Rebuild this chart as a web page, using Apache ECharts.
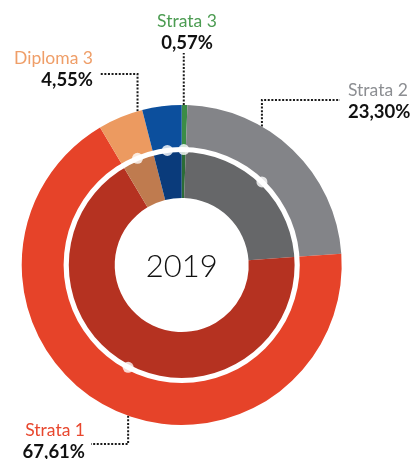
<!DOCTYPE html>
<html>
<head>
<meta charset="utf-8">
<script src="https://cdn.jsdelivr.net/npm/echarts@6/dist/echarts.min.js"></script>
<style>
  html, body { margin: 0; padding: 0; background: #fff; }
  #chart { width: 416px; height: 459px; }
</style>
</head>
<body>
<div id="chart"></div>
<script>
  var names = ['Strata 3', 'Strata 2', 'Strata 1', 'Diploma 3', 'Diploma 4'];
  var values = [0.57, 23.30, 67.61, 4.55, 3.97];
  var showLabel = [true, true, true, true, false];
  var year = '2019';

  var outerColors = ['#3b8c47', '#838488', '#e64329', '#ec9a60', '#0c4f9d'];
  var innerColors = ['#2b6c37', '#666769', '#b53221', '#bf7b4f', '#0a3b7b'];
  var nameColors = ['#4c9c52', '#8c8e92', '#e8472e', '#ef9e68', '#0c4f9d'];

  // label placement (anchor + where the dotted leader bends)
  var labelPos = [
    { x: 187, y: 32, align: 'center', elbowY: 53, endX: null },
    { x: 348, y: 101, align: 'left', elbowY: 100, endX: 340 },
    { x: 85, y: 441, align: 'right', elbowY: 444, endX: 91 },
    { x: 93, y: 69, align: 'right', elbowY: 74, endX: 100 },
    null
  ];

  var cx = 181.7, cy = 265;
  var rHole = 67, rRing = 115.5, rOuter = 160;

  var total = values.reduce(function (a, b) { return a + b; }, 0);
  var mids = [];
  var acc = 0;
  values.forEach(function (v) {
    mids.push((acc + v / 2) / total * 100);
    acc += v;
  });

  var rich = {
    v: { fontFamily: 'Lato', fontSize: 18.5, fontWeight: 'bold', color: '#111', lineHeight: 22 }
  };
  nameColors.forEach(function (c, i) {
    rich['n' + i] = { fontFamily: 'Lato', fontSize: 17.5, color: c, lineHeight: 22 };
  });

  var outerData = names.map(function (n, i) {
    return {
      name: n,
      value: values[i],
      itemStyle: { color: outerColors[i] },
      label: { show: showLabel[i] },
      labelLine: { show: showLabel[i] }
    };
  });
  var innerData = names.map(function (n, i) {
    return { name: n, value: values[i], itemStyle: { color: innerColors[i] } };
  });
  var dots = mids.map(function (m) { return [rRing, m]; });

  var chart = echarts.init(document.getElementById('chart'));
  var option = {
    animation: false,
    polar: { center: [cx, cy], radius: rOuter },
    angleAxis: { type: 'value', min: 0, max: 100, startAngle: 90, clockwise: true, show: false },
    radiusAxis: { type: 'value', min: 0, max: rOuter, show: false },
    graphic: [{
      type: 'text',
      x: cx,
      y: cy + 2,
      style: {
        text: year,
        align: 'center',
        verticalAlign: 'middle',
        fontFamily: 'Lato',
        fontWeight: 300,
        fontSize: 31,
        fill: '#111'
      }
    }],
    series: [
      {
        type: 'pie',
        center: [cx, cy],
        radius: [rRing, rOuter],
        startAngle: 90,
        avoidLabelOverlap: false,
        emphasis: { disabled: true },
        data: outerData,
        label: {
          position: 'outside',
          formatter: function (p) {
            return '{n' + p.dataIndex + '|' + p.name + '}\n{v|' +
              p.value.toFixed(2).replace('.', ',') + '%}';
          },
          rich: rich
        },
        labelLine: {
          smooth: false,
          lineStyle: { color: '#1a1a1a', width: 2, type: [2, 1.6] }
        },
        labelLayout: function (p) {
          var lp = labelPos[p.dataIndex];
          if (!lp) return {};
          var ang = mids[p.dataIndex] / 100 * 2 * Math.PI;
          var x0 = cx + rRing * Math.sin(ang);
          var dx = x0 - cx;
          var dyEdge = Math.sqrt(rOuter * rOuter - dx * dx);
          var y0 = Math.cos(ang) > 0 ? cy - dyEdge : cy + dyEdge;
          var endX = lp.endX == null ? x0 : lp.endX;
          return {
            x: lp.x,
            y: lp.y,
            align: lp.align,
            verticalAlign: 'middle',
            labelLinePoints: [[x0, y0], [x0, lp.elbowY], [endX, lp.elbowY]]
          };
        }
      },
      {
        type: 'pie',
        center: [cx, cy],
        radius: [rHole, rRing],
        startAngle: 90,
        emphasis: { disabled: true },
        label: { show: false },
        labelLine: { show: false },
        data: innerData
      },
      {
        type: 'pie',
        center: [cx, cy],
        radius: [rRing - 2.6, rRing + 2.6],
        silent: true,
        emphasis: { disabled: true },
        label: { show: false },
        labelLine: { show: false },
        itemStyle: { color: '#fff' },
        data: [{ value: 1 }]
      },
      {
        type: 'scatter',
        coordinateSystem: 'polar',
        symbol: 'circle',
        symbolSize: 11,
        itemStyle: { color: '#fff' },
        silent: true,
        data: dots
      }
    ]
  };
  chart.setOption(option);
  window.onresize = function () {
    chart.resize();
  };
</script>
</body>
</html>
